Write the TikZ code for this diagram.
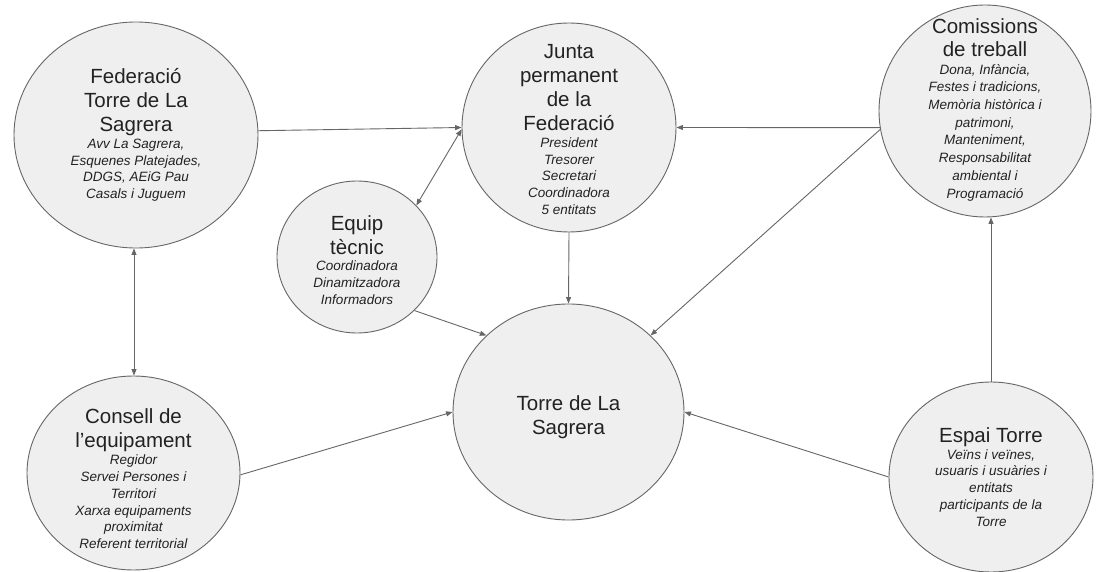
\documentclass[tikz,border=0pt]{standalone}
\usepackage{fontspec}
\setmainfont{Liberation Sans}
\usetikzlibrary{shapes.geometric,arrows.meta}
\definecolor{bubfill}{HTML}{EFEFEF}
\definecolor{bubline}{HTML}{666666}
\definecolor{txtcol}{HTML}{222222}
\newcommand{\ttl}{\fontsize{20.5}{24}\selectfont}
\newcommand{\sbt}{\fontsize{13.5}{16.8}\selectfont\itshape}
\newcommand{\ttlc}{\fontsize{20.5}{22.5}\selectfont}
\newcommand{\sbtc}{\fontsize{13.5}{17.7}\selectfont\itshape}
\tikzset{
  bub/.style={ellipse, draw=bubline, fill=bubfill, line width=0.9pt, inner sep=0pt},
  txt/.style={text=txtcol, align=flush center, text width=200pt, inner sep=0pt},
  conn/.style={draw=bubline, line width=0.9pt, -{Triangle[length=6.5pt,width=5pt]}},
  conn2/.style={draw=bubline, line width=0.9pt, {Triangle[length=6.5pt,width=5pt]}-{Triangle[length=6.5pt,width=5pt]}}
}
\begin{document}
\begin{tikzpicture}[x=1pt,y=-1pt]
\useasboundingbox (0,0) rectangle (1096,572);
\fill[white] (0,0) rectangle (1096,572);
% bubbles
\node[bub, minimum width=244pt, minimum height=226pt] (fed) at (136,135) {};
\node[bub, minimum width=214pt, minimum height=209pt] (jun) at (569,127.5) {};
\node[bub, minimum width=212pt, minimum height=212pt] (com) at (985,111) {};
\node[bub, minimum width=160pt, minimum height=152pt] (equ) at (357,257) {};
\node[bub, minimum width=231pt, minimum height=216pt] (tor) at (568.5,412) {};
\node[bub, minimum width=213pt, minimum height=194pt] (con) at (133.5,473) {};
\node[bub, minimum width=204pt, minimum height=190pt] (esp) at (991,477) {};
% texts
\node[txt] (fedt) at (fed) {{\ttl Federació\\Torre de La\\Sagrera\par}{\sbt Avv La Sagrera,\\Esquenes Platejades,\\DDGS, AEiG Pau\\Casals i Juguem\par}};
\node[txt] (junt) at ([yshift=-2pt]jun.center) {{\ttl Junta\\permanent\\de la\\Federació\par}{\sbt President\\Tresorer\\Secretari\\Coordinadora\\5 entitats\par}};
\node[txt] (comt) at ([yshift=1pt]com.center) {{\ttlc Comissions\\de treball\par}{\sbtc Dona, Infància,\\Festes i tradicions,\\Memòria històrica i\\patrimoni,\\Manteniment,\\Responsabilitat\\ambiental i\\Programació\par}};
\node[txt] (equt) at ([yshift=-3pt]equ.center) {{\ttl Equip\\tècnic\par}{\sbt Coordinadora\\Dinamitzadora\\Informadors\par}};
\node[txt] (tort) at ([yshift=-5pt]tor.center) {{\ttl Torre de La\\Sagrera\par}};
\node[txt] (cont) at ([yshift=-6pt]con.center) {{\ttl Consell de\\l’equipament\par}{\sbt Regidor\\Servei Persones i\\Territori\\Xarxa equipaments\\proximitat\\Referent territorial\par}};
\node[txt] (espt) at (esp) {{\ttl Espai Torre\par}{\sbt Veïns i veïnes,\\usuaris i usuàries i\\entitats\\participants de la\\Torre\par}};
% connectors
\draw[conn] (fed.2) -- (jun.180);
\draw[conn2] (equ.41) -- (jun.181);
\draw[conn] (com.189) -- (jun.0);
\draw[conn] (jun.south) -- (tor.north);
\draw[conn] (com.190) -- (tor.43);
\draw[conn] (equ.-43) -- (tor.137);
\draw[conn] (con.-1) -- (tor.180);
\draw[conn] (esp.180) -- (tor.0);
\draw[conn] (esp.north) -- (esp.north |- com.south);
\draw[conn2] (fed.south -| 134,0) -- (con.north -| 134,0);
\end{tikzpicture}
\end{document}
